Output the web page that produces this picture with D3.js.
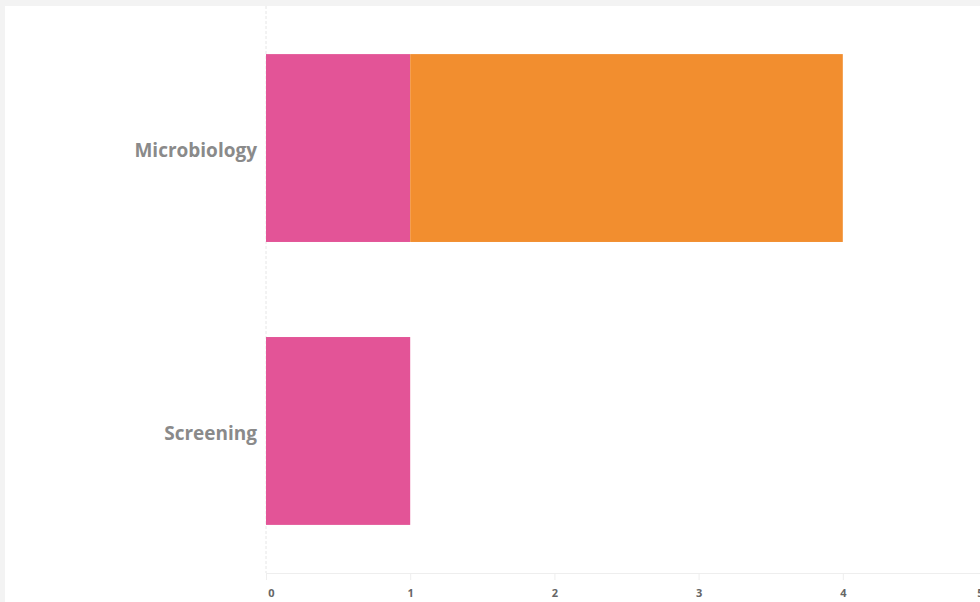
<!DOCTYPE html>
<html>
<head>
<meta charset="utf-8">
<script src="https://d3js.org/d3.v7.min.js"></script>
<style>
  body { margin: 0; background: #f3f3f3; }
  svg { display: block; }
</style>
</head>
<body>
<div id="chart"></div>
<script>
const width = 980, height = 602;

// data
const categories = ["Microbiology", "Screening"];
const seriesA = [1, 1];   // pink
const seriesB = [3, 0];   // orange
const tickValues = [0, 1, 2, 3, 4, 5];
const colors = ["#e35497", "#f28e2f"];

const rows = categories.map((c, i) => ({ cat: c, a: seriesA[i], b: seriesB[i] }));

const svg = d3.select("#chart")
  .append("svg")
  .attr("width", width)
  .attr("height", height);

// white panel
svg.append("rect")
  .attr("x", 5).attr("y", 6)
  .attr("width", width - 5).attr("height", height - 6)
  .attr("fill", "#fff");

const x = d3.scaleLinear().domain([0, 5]).range([266, 987]);
const y = d3.scaleBand()
  .domain(categories)
  .range([6, 573])
  .paddingInner(0.336)
  .paddingOuter(0.17);

const stack = d3.stack().keys(["a", "b"]);
const series = stack(rows);

// y axis dashed line
svg.append("line")
  .attr("x1", x(0)).attr("x2", x(0))
  .attr("y1", 6).attr("y2", 573)
  .attr("stroke", "#e6e6e6")
  .attr("stroke-dasharray", "3,2");

svg.append("g")
  .selectAll("g")
  .data(series)
  .join("g")
  .attr("fill", (d, i) => colors[i])
  .selectAll("rect")
  .data(d => d)
  .join("rect")
  .attr("x", d => x(d[0]))
  .attr("y", d => y(d.data.cat))
  .attr("width", d => x(d[1]) - x(d[0]))
  .attr("height", y.bandwidth());

// x axis
const xAxis = svg.append("g")
  .attr("transform", "translate(0,573)")
  .call(d3.axisBottom(x).tickValues(tickValues).tickSize(7).tickPadding(9).tickFormat(d3.format("d")));
xAxis.select(".domain").attr("stroke", "#eeeeee");
xAxis.selectAll(".tick line").attr("stroke", "#eeeeee");
xAxis.selectAll(".tick text")
  .attr("fill", "#666")
  .attr("font-family", "'Open Sans', sans-serif")
  .attr("font-weight", "bold")
  .attr("font-size", 11)
  .attr("dx", d => d === 0 ? 5 : d === 5 ? -7 : 0);

// category labels
svg.append("g")
  .selectAll("text")
  .data(categories)
  .join("text")
  .attr("x", 257)
  .attr("y", d => y(d) + y.bandwidth() / 2 + 2)
  .attr("dy", "0.35em")
  .attr("text-anchor", "end")
  .attr("fill", "#8a8a8a")
  .attr("font-family", "'Open Sans', sans-serif")
  .attr("font-weight", "bold")
  .attr("font-size", 19)
  .text(d => d);
</script>
</body>
</html>
